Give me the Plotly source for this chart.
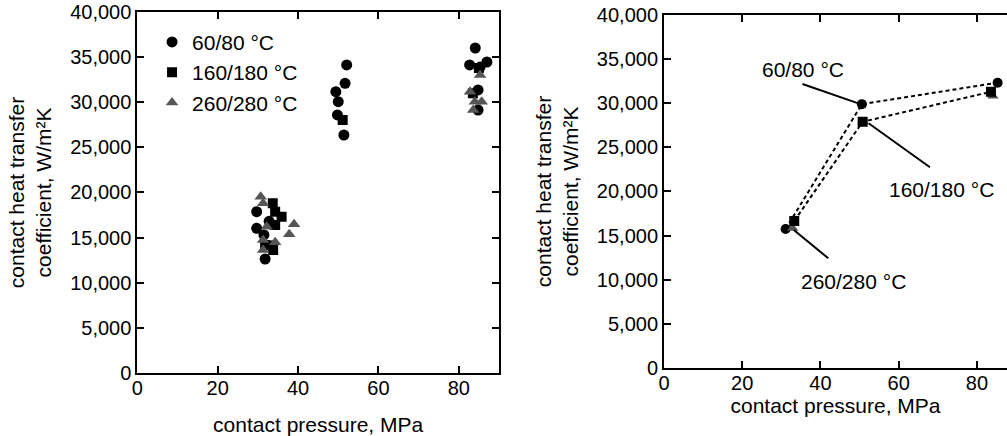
import plotly.graph_objects as go

# ---- data: left chart (individual measurements) ----
c_x = [29.7, 29.7, 31.5, 32.8, 31.8, 33.5, 52.1, 51.7, 49.4, 50.0, 49.8, 51.4, 84.1, 82.7, 87.0, 85.3, 84.8, 84.8]
c_y = [17870, 16030, 15300, 16800, 12630, 14100, 34130, 32100, 31170, 30060, 28590, 26370, 36010, 34130, 34460, 33900, 31360, 29140]
s_x = [33.7, 35.9, 34.3, 34.3, 31.8, 33.8, 51.1, 85.0, 83.5]
s_y = [18800, 17320, 17870, 16400, 14180, 13630, 28030, 33800, 31000]
t_x = [30.7, 31.3, 32.2, 39.0, 37.8, 31.3, 34.3, 31.3, 85.3, 82.8, 84.0, 85.7, 83.6]
t_y = [19530, 18800, 16210, 16480, 15370, 14740, 14480, 13630, 33020, 31170, 30060, 30060, 29140]

# ---- data: right chart (averages) ----
ac_x = [31.1, 50.6, 85.3]
ac_y = [15750, 29900, 32330]
as_x = [33.3, 50.8, 83.6]
as_y = [16660, 27900, 31300]
at_x = [32.9, 50.8, 84.1]
at_y = [15830, 27900, 30820]

names = ["60/80 °C", "160/180 °C", "260/280 °C"]
x_ticks = [0, 20, 40, 60, 80]
y_ticks = [0, 5000, 10000, 15000, 20000, 25000, 30000, 35000, 40000]

FONT = "Liberation Sans, Arial, sans-serif"
GRAY = "#555555"

fig = go.Figure()
fig.add_trace(go.Scatter(x=c_x, y=c_y, mode="markers", name=names[0], legendgroup="a",
                         marker=dict(symbol="circle", size=11, color="black"), xaxis="x", yaxis="y"))
fig.add_trace(go.Scatter(x=s_x, y=s_y, mode="markers", name=names[1], legendgroup="b",
                         marker=dict(symbol="square", size=10, color="black"), xaxis="x", yaxis="y"))
fig.add_trace(go.Scatter(x=t_x, y=t_y, mode="markers", name=names[2], legendgroup="c",
                         marker=dict(symbol="triangle-up", size=11, color=GRAY), xaxis="x", yaxis="y"))

dash = dict(color="black", width=2, dash="4px,3px")
fig.add_trace(go.Scatter(x=ac_x, y=ac_y, mode="lines+markers", showlegend=False, line=dash,
                         marker=dict(symbol="circle", size=10, color="black"), xaxis="x2", yaxis="y2"))
fig.add_trace(go.Scatter(x=at_x, y=at_y, mode="markers", showlegend=False,
                         marker=dict(symbol="triangle-up", size=10, color=GRAY), xaxis="x2", yaxis="y2"))
fig.add_trace(go.Scatter(x=as_x, y=as_y, mode="lines+markers", showlegend=False, line=dash,
                         marker=dict(symbol="square", size=10, color="black"), xaxis="x2", yaxis="y2"))

axis_common = dict(showgrid=False, zeroline=False, showline=True, linecolor="black", linewidth=2,
                   ticks="inside", ticklen=7, tickwidth=2, tickcolor="black",
                   tickfont=dict(family=FONT, size=20, color="black"), automargin=False)

fig.update_layout(
    width=1007, height=436,
    margin=dict(l=0, r=0, t=0, b=0),
    paper_bgcolor="white", plot_bgcolor="white",
    font=dict(family=FONT, color="black"),
    xaxis=dict(domain=[0.1364, 0.4955], range=[0, 90], tickvals=x_ticks, mirror="ticks", anchor="y",
               ticklabelstandoff=-4,
               title=dict(text="contact pressure, MPa", font=dict(size=21), standoff=23), **axis_common),
    yaxis=dict(domain=[0.1445, 0.9725], range=[0, 40000], tickvals=y_ticks, tickformat=",d", mirror="ticks",
               anchor="x",
               title=dict(text="contact heat transfer<br>coefficient, W/m²K", font=dict(size=21), standoff=13),
               **axis_common),
    xaxis2=dict(domain=[0.6594, 1.0], range=[0, 87.7], tickvals=x_ticks, mirror="ticks", anchor="y2",
                ticklabelstandoff=-4,
                title=dict(text="contact pressure, MPa", font=dict(size=21), standoff=5), **axis_common),
    yaxis2=dict(domain=[0.156, 0.9656], range=[0, 40000], tickvals=y_ticks, tickformat=",d", mirror=False,
                anchor="x2",
                title=dict(text="contact heat transfer<br>coefficient, W/m²K", font=dict(size=21), standoff=12),
                **axis_common),
    legend=dict(x=0.151, y=0.95, xanchor="left", yanchor="top", bgcolor="rgba(0,0,0,0)",
                font=dict(size=21, family=FONT), tracegroupgap=0),
    showlegend=True,
)

# leader lines and labels on the right chart
leaders = [((35.4, 32180), (49.7, 29990)), ((52.3, 27730), (68.0, 22740)), ((33.2, 15640), (42.0, 12430))]
for (x0, y0), (x1, y1) in leaders:
    fig.add_shape(type="line", xref="x2", yref="y2", x0=x0, y0=y0, x1=x1, y1=y1,
                  line=dict(color="black", width=2))
labels = [(35.5, 33770, names[0]), (71.0, 20280, names[1]), (48.4, 9780, names[2])]
for x, y, t in labels:
    fig.add_annotation(x=x, y=y, xref="x2", yref="y2", text=t, showarrow=False,
                       font=dict(size=21, family=FONT, color="black"))

fig.write_html("out.html", config={"displayModeBar": False},
               post_script="document.body.style.margin='0';document.body.style.overflow='hidden';")
